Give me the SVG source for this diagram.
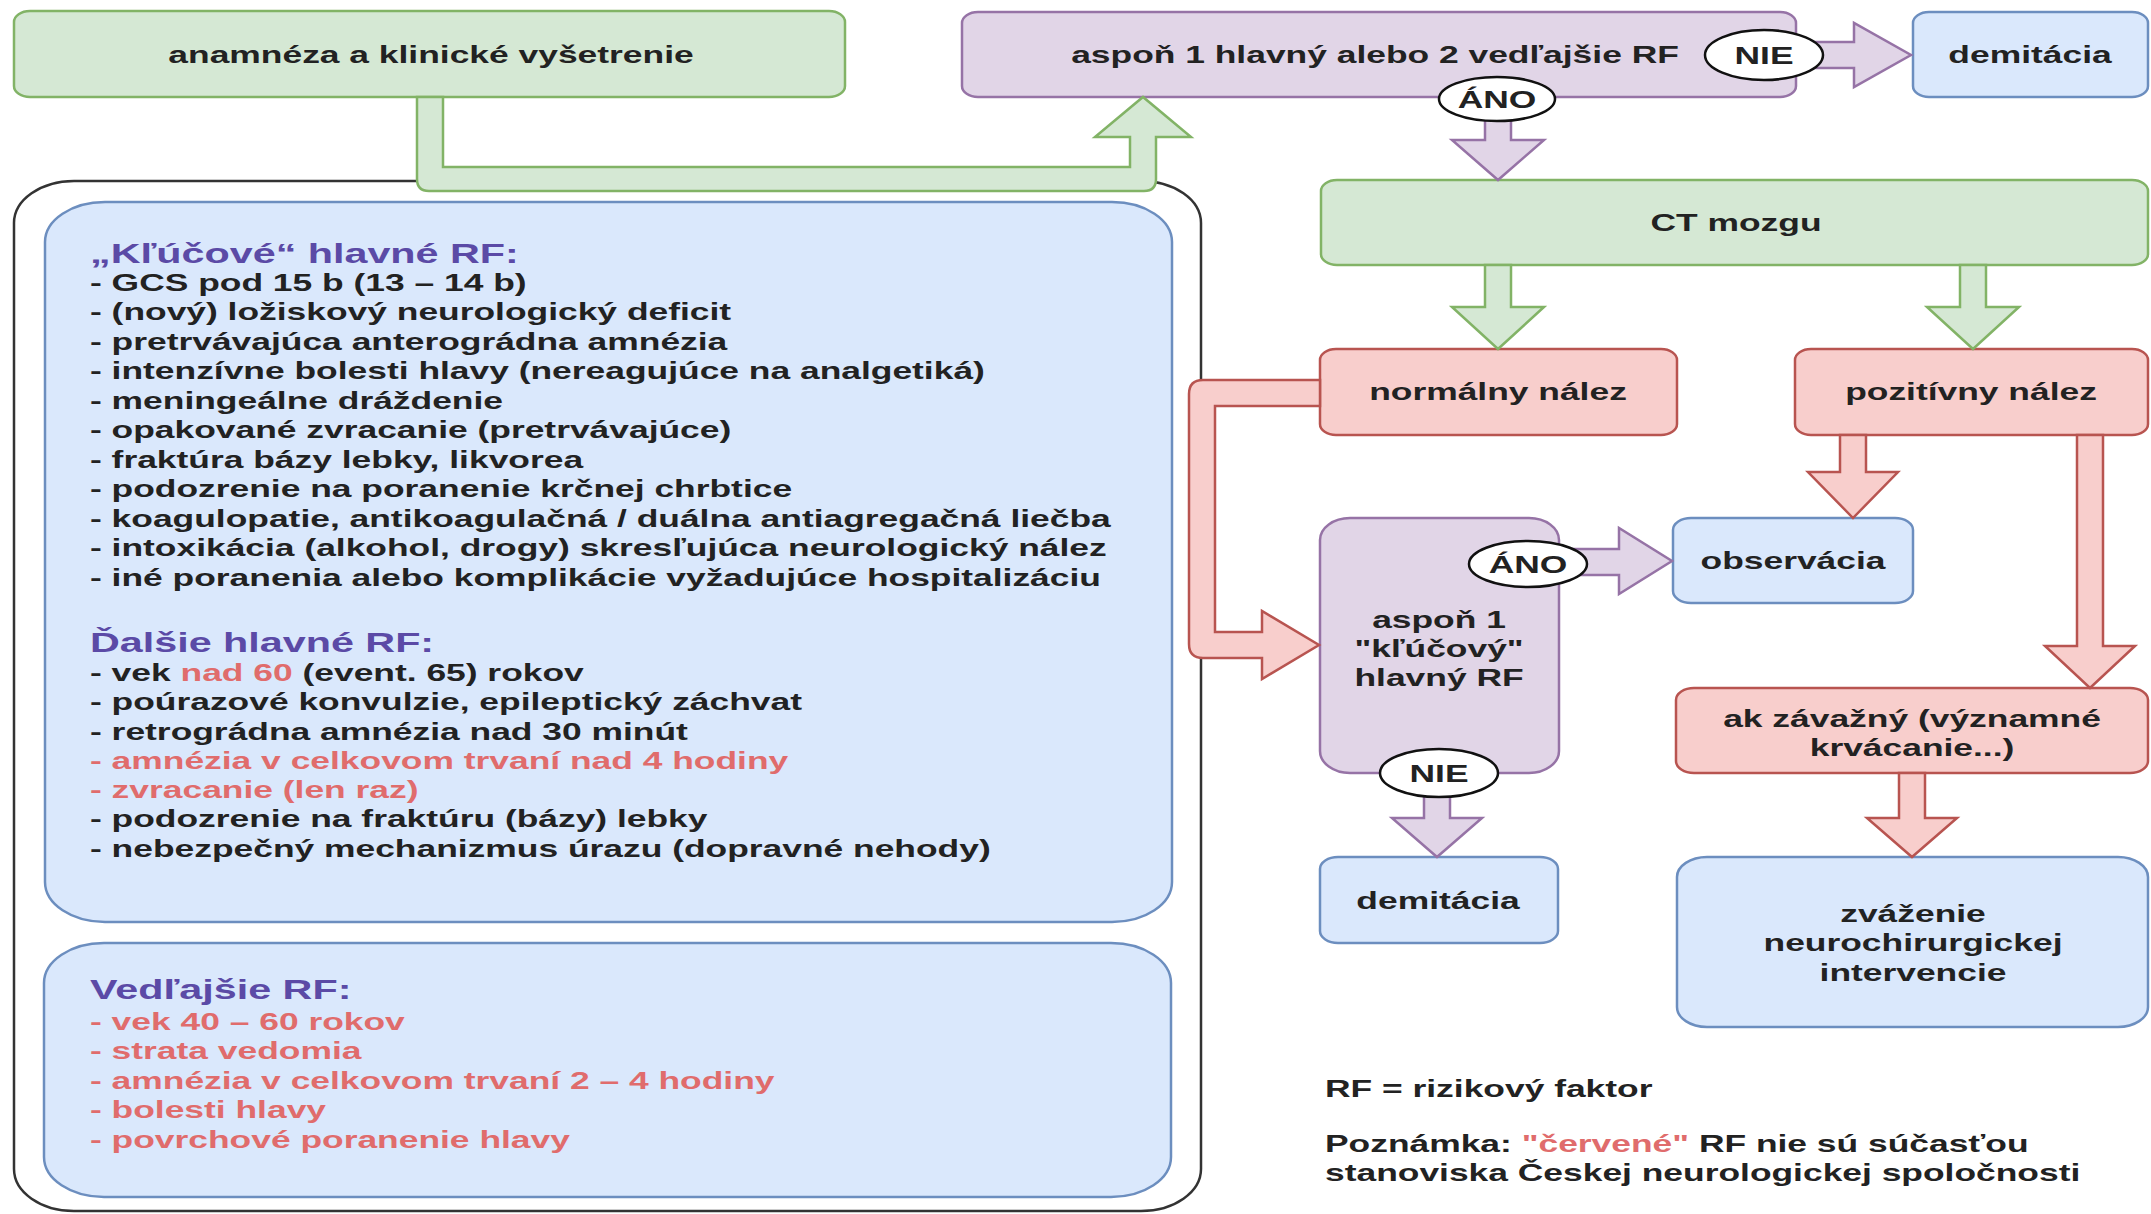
<svg xmlns="http://www.w3.org/2000/svg" width="2151" height="1214" viewBox="0 0 2151 1214">
<style>
text{font-family:"Liberation Sans",Arial,Helvetica,sans-serif;font-weight:bold;font-size:24px;fill:#222}
.h{font-size:28px;fill:#5b4aa6}
.r{fill:#e06c6c}
.c{text-anchor:middle}
.green{fill:#d5e8d4;stroke:#82b366;stroke-width:2.5}
.purple{fill:#e1d5e7;stroke:#9673a6;stroke-width:2.5}
.blue{fill:#dae8fc;stroke:#6c8ebf;stroke-width:2.5}
.red{fill:#f8cecc;stroke:#b85450;stroke-width:2.5}
.lbl{fill:#fff;stroke:#111;stroke-width:2.5}
</style>
<rect width="2151" height="1214" fill="#fff"/>

<g id="container">
<rect x="14" y="181" width="1187" height="1030" rx="60" ry="42" fill="none" stroke="#333" stroke-width="2.5"/>
</g>

<g id="n-klucove">
<rect class="blue" x="45" y="202" width="1127" height="720" rx="60" ry="40"/>
<text transform="translate(90 0) scale(1.475 1)">
<tspan class="h" x="0" y="263">„Kľúčové“ hlavné RF:</tspan>
<tspan x="0" y="291">- GCS pod 15 b (13 – 14 b)</tspan>
<tspan x="0" y="320.5">- (nový) ložiskový neurologický deficit</tspan>
<tspan x="0" y="350">- pretrvávajúca anterográdna amnézia</tspan>
<tspan x="0" y="379.5">- intenzívne bolesti hlavy (nereagujúce na analgetiká)</tspan>
<tspan x="0" y="409">- meningeálne dráždenie</tspan>
<tspan x="0" y="438.5">- opakované zvracanie (pretrvávajúce)</tspan>
<tspan x="0" y="468">- fraktúra bázy lebky, likvorea</tspan>
<tspan x="0" y="497.5">- podozrenie na poranenie krčnej chrbtice</tspan>
<tspan x="0" y="527">- koagulopatie, antikoagulačná / duálna antiagregačná liečba</tspan>
<tspan x="0" y="556.5">- intoxikácia (alkohol, drogy) skresľujúca neurologický nález</tspan>
<tspan x="0" y="586">- iné poranenia alebo komplikácie vyžadujúce hospitalizáciu</tspan>
<tspan class="h" x="0" y="652">Ďalšie hlavné RF:</tspan>
<tspan x="0" y="681">- vek <tspan class="r">nad 60</tspan> (event. 65) rokov</tspan>
<tspan x="0" y="710.3">- poúrazové konvulzie, epileptický záchvat</tspan>
<tspan x="0" y="739.6">- retrográdna amnézia nad 30 minút</tspan>
<tspan class="r" x="0" y="768.9">- amnézia v celkovom trvaní nad 4 hodiny</tspan>
<tspan class="r" x="0" y="798.2">- zvracanie (len raz)</tspan>
<tspan x="0" y="827.5">- podozrenie na fraktúru (bázy) lebky</tspan>
<tspan x="0" y="856.8">- nebezpečný mechanizmus úrazu (dopravné nehody)</tspan>
</text>
</g>

<g id="n-vedlajsie">
<rect class="blue" x="44" y="943" width="1127" height="254" rx="60" ry="40"/>
<text transform="translate(90 0) scale(1.475 1)">
<tspan class="h" x="0" y="999">Vedľajšie RF:</tspan>
<tspan class="r" x="0" y="1030">- vek 40 – 60 rokov</tspan>
<tspan class="r" x="0" y="1059.5">- strata vedomia</tspan>
<tspan class="r" x="0" y="1089">- amnézia v celkovom trvaní 2 – 4 hodiny</tspan>
<tspan class="r" x="0" y="1118.5">- bolesti hlavy</tspan>
<tspan class="r" x="0" y="1148">- povrchové poranenie hlavy</tspan>
</text>
</g>

<g id="n-anamneza">
<rect class="green" x="14" y="11" width="831" height="86" rx="16" ry="11"/>
<text class="c" transform="translate(431 0) scale(1.475 1)"><tspan x="0" y="63">anamnéza a klinické vyšetrenie</tspan></text>
</g>

<g id="n-aspon">
<rect class="purple" x="962" y="12" width="834" height="85" rx="16" ry="11"/>
<text class="c" transform="translate(1375 0) scale(1.475 1)"><tspan x="0" y="63">aspoň 1 hlavný alebo 2 vedľajšie RF</tspan></text>
</g>

<g id="n-demitacia1">
<rect class="blue" x="1913" y="12" width="235" height="85" rx="16" ry="11"/>
<text class="c" transform="translate(2030 0) scale(1.475 1)"><tspan x="0" y="63">demitácia</tspan></text>
</g>

<g id="n-ct">
<rect class="green" x="1321" y="180" width="827" height="85" rx="16" ry="11"/>
<text class="c" transform="translate(1736 0) scale(1.475 1)"><tspan x="0" y="231">CT mozgu</tspan></text>
</g>

<g id="n-normalny">
<rect class="red" x="1320" y="349" width="357" height="86" rx="16" ry="11"/>
<text class="c" transform="translate(1498 0) scale(1.475 1)"><tspan x="0" y="400">normálny nález</tspan></text>
</g>

<g id="n-pozitivny">
<rect class="red" x="1795" y="349" width="353" height="86" rx="16" ry="11"/>
<text class="c" transform="translate(1971 0) scale(1.475 1)"><tspan x="0" y="400">pozitívny nález</tspan></text>
</g>

<g id="n-klucovy">
<rect class="purple" x="1320" y="518" width="239" height="255" rx="30" ry="22"/>
<text class="c" transform="translate(1439 0) scale(1.475 1)"><tspan x="0" y="628">aspoň 1</tspan><tspan x="0" y="657">"kľúčový"</tspan><tspan x="0" y="686">hlavný RF</tspan></text>
</g>

<g id="n-observacia">
<rect class="blue" x="1673" y="518" width="240" height="85" rx="18" ry="12"/>
<text class="c" transform="translate(1793 0) scale(1.475 1)"><tspan x="0" y="569">observácia</tspan></text>
</g>

<g id="n-akzavazny">
<rect class="red" x="1676" y="688" width="472" height="85" rx="18" ry="12"/>
<text class="c" transform="translate(1912 0) scale(1.475 1)"><tspan x="0" y="727">ak závažný (významné</tspan><tspan x="0" y="756">krvácanie...)</tspan></text>
</g>

<g id="n-demitacia2">
<rect class="blue" x="1320" y="857" width="238" height="86" rx="18" ry="12"/>
<text class="c" transform="translate(1438 0) scale(1.475 1)"><tspan x="0" y="909">demitácia</tspan></text>
</g>

<g id="n-zvazenie">
<rect class="blue" x="1677" y="857" width="471" height="170" rx="30" ry="20"/>
<text class="c" transform="translate(1913 0) scale(1.475 1)"><tspan x="0" y="922">zváženie</tspan><tspan x="0" y="951.5">neurochirurgickej</tspan><tspan x="0" y="981">intervencie</tspan></text>
</g>

<g id="legend">
<text transform="translate(1325 0) scale(1.475 1)"><tspan x="0" y="1097">RF = rizikový faktor</tspan><tspan x="0" y="1152">Poznámka: <tspan class="r">"červené"</tspan> RF nie sú súčasťou</tspan><tspan x="0" y="1181.5">stanoviska Českej neurologickej spoločnosti</tspan></text>
</g>

<g id="connectors">
<path class="green" d="M417,97 L417,179 Q417,191 429,191 L1144,191 Q1156,191 1156,179 L1156,137 L1191,137 L1143,97 L1095,137 L1130,137 L1130,167 L443,167 L443,97 Z"/>
<path class="purple" d="M1796,42 L1854,42 L1854,23 L1911,55 L1854,87 L1854,68 L1796,68 Z"/>
<path class="purple" d="M1485,97 L1485,140 L1452,140 L1498,180 L1544,140 L1511,140 L1511,97 Z"/>
<path class="green" d="M1485,265 L1485,307 L1452,307 L1498,349 L1544,307 L1511,307 L1511,265 Z"/>
<path class="green" d="M1960,265 L1960,307 L1927,307 L1973,349 L2019,307 L1986,307 L1986,265 Z"/>
<path class="red" d="M1320,380 L1203,380 Q1189,380 1189,394 L1189,644 Q1189,658 1203,658 L1262,658 L1262,679 L1319,645 L1262,611 L1262,632 L1215,632 L1215,406 L1320,406 Z"/>
<path class="red" d="M1840,435 L1840,472 L1808,472 L1853,518 L1898,472 L1866,472 L1866,435 Z"/>
<path class="red" d="M2077,435 L2077,646 L2045,646 L2090,688 L2135,646 L2103,646 L2103,435 Z"/>
<path class="red" d="M1899,773 L1899,818 L1867,818 L1912,857 L1957,818 L1925,818 L1925,773 Z"/>
<path class="purple" d="M1559,549 L1619,549 L1619,528 L1672,561 L1619,594 L1619,575 L1559,575 Z"/>
<path class="purple" d="M1424,773 L1424,818 L1392,818 L1437,857 L1482,818 L1450,818 L1450,773 Z"/>
<ellipse class="lbl" cx="1764" cy="55" rx="59" ry="25"/>
<text class="c" transform="translate(1764 0) scale(1.475 1)"><tspan x="0" y="64">NIE</tspan></text>
<ellipse class="lbl" cx="1497" cy="99" rx="58" ry="22"/>
<text class="c" transform="translate(1497 0) scale(1.475 1)"><tspan x="0" y="108">ÁNO</tspan></text>
<ellipse class="lbl" cx="1528" cy="564" rx="59" ry="23"/>
<text class="c" transform="translate(1528 0) scale(1.475 1)"><tspan x="0" y="573">ÁNO</tspan></text>
<ellipse class="lbl" cx="1439" cy="773" rx="59" ry="24"/>
<text class="c" transform="translate(1439 0) scale(1.475 1)"><tspan x="0" y="782">NIE</tspan></text>
</g>
</svg>
